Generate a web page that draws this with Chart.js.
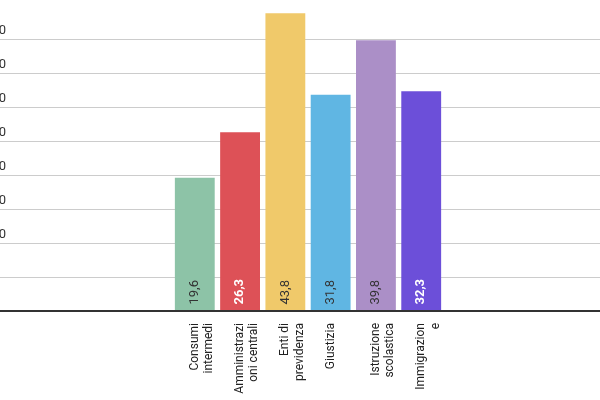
<!DOCTYPE html>
<html><head><meta charset="utf-8">
<script src="https://cdn.jsdelivr.net/npm/chart.js@4"></script>
<style>html,body{margin:0;padding:0;overflow:hidden;background:#fff}
#wrap{position:absolute;left:-9px;top:0;width:634px;height:400px}</style>
</head><body><div id="wrap"><canvas id="c"></canvas></div>
<script>
const categories = ['', '', '', '', ['Consumi','intermedi'], ['Amministrazi','oni centrali'], ['Enti di','previdenza'], ['Giustizia'], ['Istruzione','scolastica'], ['Immigrazion','e'], '', '', '', ''];
const values = [null, null, null, null, 19.6, 26.3, 43.8, 31.8, 39.8, 32.3, null, null, null, null];
const valueLabels = ['', '', '', '', '19,6', '26,3', '43,8', '31,8', '39,8', '32,3', '', '', '', ''];
const colors = [null, null, null, null, '#8dc3a7', '#dd5157', '#f0c96a', '#60b6e3', '#ab8fc7', '#6c4fd9', null, null, null, null];
const whiteLabel = [false, false, false, false, false, true, false, false, false, true, false, false, false, false];
const yTicks = [10, 15, 20, 25, 30, 35, 40];

const labelPlugin = {
  id: 'labels',
  afterDatasetsDraw(chart) {
    const ctx = chart.ctx;
    const meta = chart.getDatasetMeta(0);
    ctx.save();
    meta.data.forEach((bar, i) => {
      if (values[i] == null) return;
      ctx.save();
      ctx.translate(bar.x, bar.base - 6);
      ctx.rotate(-Math.PI / 2);
      ctx.font = (whiteLabel[i] ? 'bold ' : '') + '13px Roboto, Arial, sans-serif';
      ctx.fillStyle = whiteLabel[i] ? '#ffffff' : '#333333';
      ctx.textAlign = 'left';
      ctx.textBaseline = 'middle';
      ctx.fillText(valueLabels[i], 0, 0);
      ctx.restore();
    });
    const ys = chart.scales.y;
    ctx.font = '13px Roboto, Arial, sans-serif';
    ctx.fillStyle = '#333';
    ctx.textAlign = 'right';
    ctx.textBaseline = 'bottom';
    yTicks.forEach(v => {
      ctx.fillText(v + ',0', chart.chartArea.left + 15, ys.getPixelForValue(v) - 2);
    });
    ctx.strokeStyle = '#333';
    ctx.lineWidth = 2;
    ctx.beginPath();
    ctx.moveTo(chart.chartArea.left, ys.getPixelForValue(0));
    ctx.lineTo(chart.chartArea.right, ys.getPixelForValue(0));
    ctx.stroke();
    ctx.restore();
  }
};

new Chart(document.getElementById('c'), {
  type: 'bar',
  data: { labels: categories, datasets: [{ data: values, backgroundColor: colors, barPercentage: 0.88, categoryPercentage: 1 }] },
  options: {
    responsive: true, maintainAspectRatio: false, animation: false,
    layout: { padding: { top: 5, left: 0, right: 0, bottom: 0 } },
    plugins: { legend: { display: false }, tooltip: { enabled: false } },
    scales: {
      x: {
        grid: { display: false }, border: { display: false },
        ticks: { color: '#222', font: { family: 'Roboto, Arial, sans-serif', size: 12 }, maxRotation: 90, minRotation: 90, autoSkip: false, padding: 4 },
        afterFit(s) { s.height = 89; }
      },
      y: {
        min: 0, max: 45,
        ticks: { display: false, stepSize: 5 },
        grid: { color: (c) => c.tick.value >= 45 ? 'rgba(0,0,0,0)' : '#cccccc', drawTicks: false, lineWidth: 1 },
        border: { display: false },
        afterFit(s) { s.width = 0; }
      }
    }
  },
  plugins: [labelPlugin]
});
</script></body></html>
